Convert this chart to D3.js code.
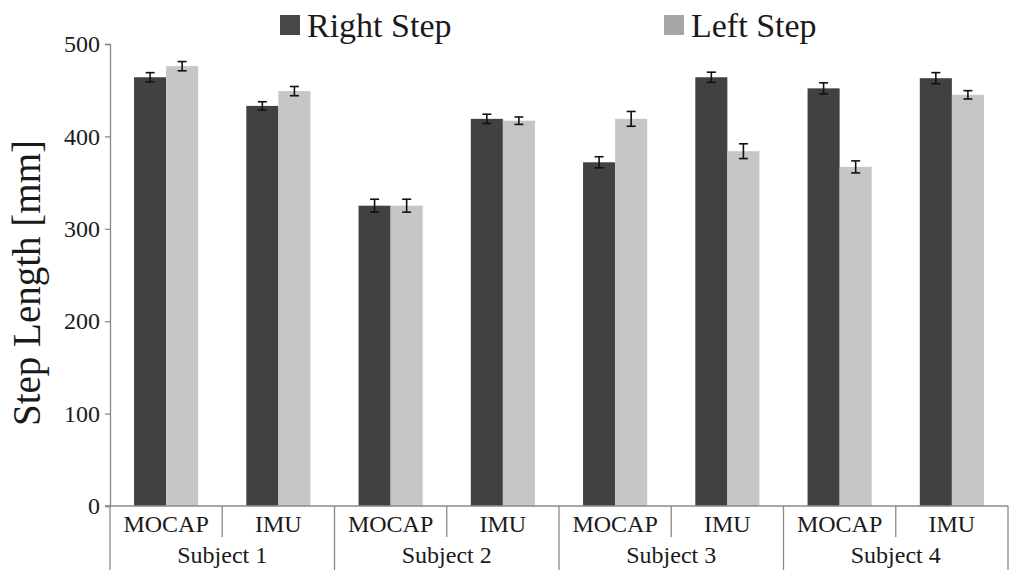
<!DOCTYPE html>
<html>
<head>
<meta charset="utf-8">
<script src="https://cdn.jsdelivr.net/npm/d3@7"></script>
</head>
<body style="margin:0;background:#fff">
<div id="chart"></div>
<script>
// data
const subjects = ["Subject 1", "Subject 2", "Subject 3", "Subject 4"];
const systems = ["MOCAP", "IMU"];
const series = ["Right Step", "Left Step"];
const rightStep = [464, 433, 325, 419, 372, 464, 452, 463];
const leftStep = [476, 449, 325, 417, 419, 384, 367, 445];
const rightErr = [5, 4.5, 7, 5, 6, 5.5, 6, 6];
const leftErr = [5, 5, 7, 4, 8, 8, 6.5, 4.5];
const yTicks = [0, 100, 200, 300, 400, 500];

const width = 1024, height = 583,
  margin = { top: 44, right: 16, bottom: 77, left: 110 };

const serifFont = "'Liberation Serif'";
const barColor = { "Right Step": "#414141", "Left Step": "#c6c6c6" };
const swatchColor = { "Right Step": "#474747", "Left Step": "#a6a6a6" };

// put the serif face straight on each text node
function serif(sel) {
  sel.style("font-family", serifFont).attr("font-family", "Liberation Serif");
}

// one entry per sub-category (subject x system)
const cats = [];
subjects.forEach(s => systems.forEach(m => cats.push(s + "|" + m)));
const rows = cats.map((c, i) => ({
  key: c,
  subject: c.split("|")[0],
  system: c.split("|")[1],
  values: [
    { name: "Right Step", v: rightStep[i], e: rightErr[i] },
    { name: "Left Step", v: leftStep[i], e: leftErr[i] }
  ]
}));

const svg = d3.select("#chart").append("svg")
  .attr("width", width).attr("height", height)
  .style("display", "block");

const x = d3.scaleBand()
  .domain(cats)
  .range([margin.left, width - margin.right])
  .paddingInner(0).paddingOuter(0);

const xInner = d3.scaleBand()
  .domain(series)
  .range([0, x.bandwidth()])
  .paddingInner(0).paddingOuter(0.75);

const y = d3.scaleLinear()
  .domain([0, 500])
  .range([height - margin.bottom, margin.top]);

const y0 = y(0);

// y axis
const yAxis = d3.axisLeft(y).tickValues(yTicks).tickSize(5).tickPadding(5);
const gy = svg.append("g")
  .attr("transform", `translate(${margin.left},0)`)
  .call(yAxis);
gy.select(".domain").attr("stroke", "#8a8a8a").attr("stroke-width", 1.3);
gy.selectAll(".tick line").attr("stroke", "#8a8a8a").attr("stroke-width", 1.3);
gy.selectAll(".tick text").attr("font-size", 24).attr("fill", "#1a1a1a").call(serif);

// bars
const groups = svg.selectAll("g.cat")
  .data(rows)
  .join("g")
  .attr("class", "cat")
  .attr("transform", d => `translate(${x(d.key)},0)`);

groups.selectAll("rect")
  .data(d => d.values)
  .join("rect")
  .attr("x", d => xInner(d.name))
  .attr("width", xInner.bandwidth())
  .attr("y", d => y(d.v))
  .attr("height", d => y0 - y(d.v))
  .attr("fill", d => barColor[d.name]);

// error bars
const capW = 4.5;
const eb = groups.selectAll("g.err")
  .data(d => d.values)
  .join("g")
  .attr("class", "err")
  .attr("stroke", "#111")
  .attr("stroke-width", 1.6);
eb.append("line")
  .attr("x1", d => xInner(d.name) + xInner.bandwidth() / 2)
  .attr("x2", d => xInner(d.name) + xInner.bandwidth() / 2)
  .attr("y1", d => y(d.v + d.e))
  .attr("y2", d => y(d.v - d.e));
eb.append("line")
  .attr("x1", d => xInner(d.name) + xInner.bandwidth() / 2 - capW)
  .attr("x2", d => xInner(d.name) + xInner.bandwidth() / 2 + capW)
  .attr("y1", d => y(d.v + d.e))
  .attr("y2", d => y(d.v + d.e));
eb.append("line")
  .attr("x1", d => xInner(d.name) + xInner.bandwidth() / 2 - capW)
  .attr("x2", d => xInner(d.name) + xInner.bandwidth() / 2 + capW)
  .attr("y1", d => y(d.v - d.e))
  .attr("y2", d => y(d.v - d.e));

// x axis with two-level labels
const xg = svg.append("g").attr("stroke", "#8a8a8a").attr("stroke-width", 1.3);
xg.append("line")
  .attr("x1", margin.left - 5).attr("x2", width - margin.right)
  .attr("y1", y0).attr("y2", y0);

// separators between systems inside a subject
rows.forEach((d, i) => {
  if (i % 2 === 1) {
    xg.append("line")
      .attr("x1", x(d.key)).attr("x2", x(d.key))
      .attr("y1", y0).attr("y2", y0 + 31);
  }
});
// separators between subjects
const subjEdges = subjects.map(s => x(s + "|" + systems[0])).concat([x.range()[1]]);
subjEdges.forEach(px => {
  xg.append("line")
    .attr("x1", px).attr("x2", px)
    .attr("y1", y0).attr("y2", y0 + 64);
});

svg.append("g").selectAll("text.sys")
  .data(rows)
  .join("text")
  .attr("x", d => x(d.key) + x.bandwidth() / 2)
  .attr("y", y0 + 26)
  .attr("text-anchor", "middle")
  .attr("font-size", 24)
  .attr("fill", "#1a1a1a")
  .call(serif)
  .text(d => d.system);

svg.append("g").selectAll("text.subj")
  .data(subjects)
  .join("text")
  .attr("x", s => x(s + "|" + systems[0]) + x.bandwidth())
  .attr("y", y0 + 57)
  .attr("text-anchor", "middle")
  .attr("font-size", 24)
  .attr("fill", "#1a1a1a")
  .call(serif)
  .text(s => s);

// y axis title
svg.append("text")
  .attr("transform", `translate(40,283) rotate(-90)`)
  .attr("text-anchor", "middle")
  .attr("font-size", 39)
  .attr("fill", "#1a1a1a")
  .call(serif)
  .text("Step Length [mm]");

// legend
const legendX = [280, 664];
const legend = svg.append("g").selectAll("g")
  .data(series)
  .join("g")
  .attr("transform", (d, i) => `translate(${legendX[i]},15)`);
legend.append("rect")
  .attr("width", 20).attr("height", 20)
  .attr("fill", d => swatchColor[d]);
legend.append("text")
  .attr("x", 27).attr("y", 22)
  .attr("font-size", 34)
  .attr("fill", "#1a1a1a")
  .call(serif)
  .text(d => d);
</script>
</body>
</html>
